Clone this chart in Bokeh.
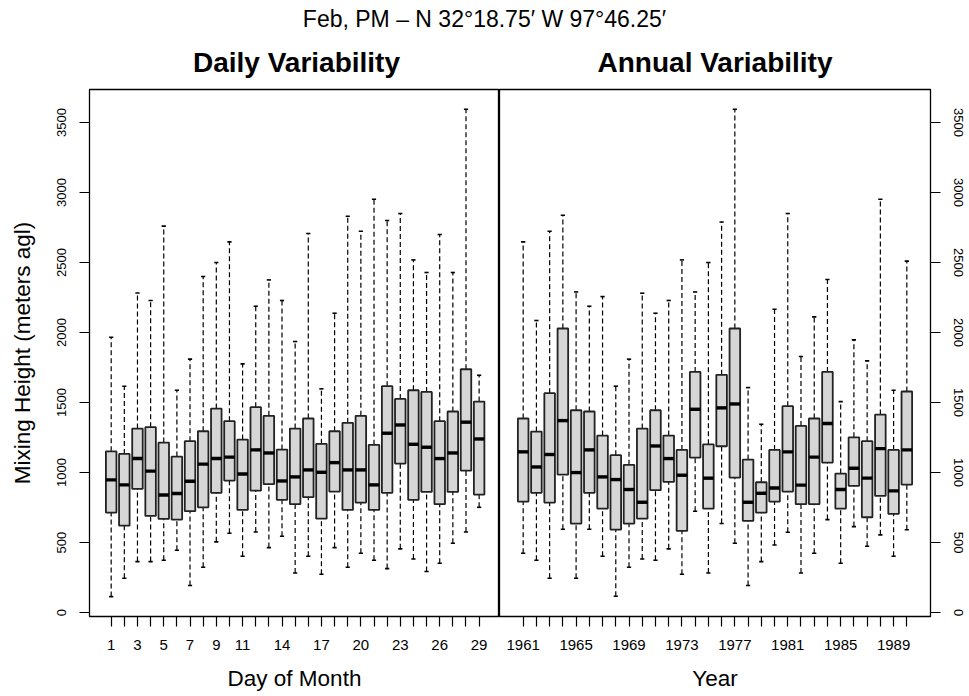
from bokeh.plotting import figure
from bokeh.models import ColumnDataSource, FixedTicker, Range1d
from bokeh.layouts import column, row
from bokeh.embed import file_html
from bokeh.resources import INLINE
from bokeh.core.properties import value

# ---------------- data ----------------
days = list(range(1, 30))
day_lower = [114, 245, 364, 364, 374, 445, 193, 324, 505, 567, 402, 576, 464, 545, 283,
             402, 274, 464, 324, 424, 374, 314, 455, 383, 293, 352, 495, 576, 752]
day_q1 = [714, 621, 883, 690, 669, 664, 724, 752, 855, 943, 733, 871, 917, 805, 774,
          824, 671, 864, 733, 786, 733, 855, 1064, 805, 862, 774, 862, 1014, 843]
day_med = [948, 912, 1100, 1010, 840, 850, 938, 1060, 1100, 1110, 990, 1162, 1140, 940, 969,
           1019, 1002, 1071, 1019, 1019, 912, 1281, 1340, 1202, 1181, 1100, 1140, 1360, 1240]
day_q3 = [1152, 1133, 1314, 1324, 1214, 1114, 1224, 1295, 1457, 1367, 1236, 1467, 1405, 1164, 1314,
          1386, 1205, 1295, 1355, 1405, 1198, 1617, 1526, 1588, 1576, 1367, 1436, 1738, 1507]
day_upper = [1966, 1617, 2283, 2229, 2760, 1588, 1810, 2400, 2500, 2648, 1776, 2188, 2376, 2229, 1936,
             2707, 1598, 2138, 2831, 2724, 2952, 2800, 2850, 2519, 2429, 2700, 2429, 3595, 1695]
day_tick_labels = ["1", "3", "5", "7", "9", "11", "14", "17", "20", "23", "26", "29"]

years = list(range(1961, 1991))
yr_lower = [424, 374, 245, 595, 245, 595, 402, 117, 324, 383, 374, 455, 274, 724, 283,
            636, 495, 193, 364, 483, 574, 283, 424, 664, 352, 614, 474, 555, 402, 592]
yr_q1 = [793, 855, 786, 986, 636, 855, 743, 593, 636, 671, 874, 933, 583, 1107, 743,
         1188, 964, 655, 714, 793, 864, 774, 774, 1071, 743, 905, 681, 833, 705, 914]
yr_med = [1148, 1040, 1129, 1371, 1000, 1162, 969, 950, 879, 788, 1190, 1100, 981, 1452, 960,
          1462, 1490, 788, 852, 890, 1148, 910, 1110, 1350, 879, 1031, 960, 1171, 869, 1162]
yr_q3 = [1386, 1293, 1567, 2029, 1445, 1436, 1264, 1124, 1055, 1314, 1445, 1264, 1162, 1719, 1202,
         1698, 2029, 1093, 931, 1162, 1474, 1333, 1386, 1719, 993, 1252, 1224, 1414, 1162, 1579]
yr_upper = [2648, 2086, 2724, 2838, 2290, 2188, 2257, 1617, 1810, 2281, 2138, 2229, 2519, 2290, 2500,
            2790, 3595, 1607, 1345, 2167, 2850, 1829, 2112, 2379, 1507, 1948, 1798, 2952, 1588, 2510]
year_tick_labels = ["1961", "1965", "1969", "1973", "1977", "1981", "1985", "1989"]

y_ticks = [0, 500, 1000, 1500, 2000, 2500, 3000, 3500]

main_title = "Feb, PM \u2013 N 32\u00b018.75\u2032 W 97\u00b046.25\u2032"
left_title = "Daily Variability"
right_title = "Annual Variability"

FONT = "Liberation Sans"
BOX_W = 0.8
CAP_W = 0.32
BOX_FILL = "#d6d6d6"


def draw_boxes(p, xs, lo, q1, med, q3, up):
    src = ColumnDataSource(dict(
        x=xs, lo=lo, q1=q1, med=med, q3=q3, up=up,
        bx0=[x - BOX_W / 2 for x in xs], bx1=[x + BOX_W / 2 for x in xs],
        cx0=[x - CAP_W / 2 for x in xs], cx1=[x + CAP_W / 2 for x in xs],
    ))
    p.segment(x0="x", y0="q3", x1="x", y1="up", source=src, line_color="black",
              line_width=1.2, line_dash="5 3")
    p.segment(x0="x", y0="lo", x1="x", y1="q1", source=src, line_color="black",
              line_width=1.2, line_dash="5 3")
    p.segment(x0="cx0", y0="up", x1="cx1", y1="up", source=src, line_color="black", line_width=1.6)
    p.segment(x0="cx0", y0="lo", x1="cx1", y1="lo", source=src, line_color="black", line_width=1.6)
    p.vbar(x="x", width=BOX_W, bottom="q1", top="q3", source=src, fill_color=BOX_FILL,
           line_color="#222222", line_width=1.8)
    p.segment(x0="bx0", y0="med", x1="bx1", y1="med", source=src, line_color="black",
              line_width=3.4)


def style_common(p):
    p.outline_line_color = "black"
    p.outline_line_width = 1.3
    p.xgrid.visible = False
    p.ygrid.visible = False
    p.background_fill_color = "white"
    p.border_fill_color = "white"


def style_axis(ax, font_size):
    ax.axis_line_color = None
    ax.major_tick_line_color = "black"
    ax.major_tick_line_width = 1.2
    ax.major_tick_in = 0
    ax.major_tick_out = 10
    ax.minor_tick_line_color = None
    ax.major_label_text_font = FONT
    ax.major_label_text_font_size = font_size
    ax.major_label_text_color = "black"
    ax.axis_label_text_font = FONT
    ax.axis_label_text_font_style = "normal"
    ax.axis_label_text_font_size = "22.5px"
    ax.axis_label_text_color = "black"


Y_RANGE = (-28, 3736)

# --------------- title strip ---------------
TOP_W = 965
TOP_H = 83
pt = figure(width=TOP_W, height=TOP_H, output_backend="svg", toolbar_location=None,
            x_range=Range1d(0, TOP_W), y_range=Range1d(0, TOP_H),
            min_border=0, min_border_left=0, min_border_right=0, min_border_top=0, min_border_bottom=0)
pt.axis.visible = False
pt.grid.visible = False
pt.outline_line_color = None
pt.text(x=[484], y=[TOP_H - 18], text=[main_title], text_font=value(FONT),
        text_font_size="23px", text_align="center", text_baseline="middle", text_color="black")
pt.text(x=[296, 714.5], y=[TOP_H - 62, TOP_H - 62], text=[left_title, right_title],
        text_font=value(FONT), text_font_size="28px", text_font_style="bold",
        text_align="center", text_baseline="middle", text_color="black")

# --------------- left panel ---------------
PH = 613
pl = figure(width=499, height=PH, output_backend="svg", toolbar_location=None,
            x_range=Range1d(-0.65, 30.55), y_range=Range1d(*Y_RANGE),
            min_border_left=89, min_border_right=0, min_border_top=6, min_border_bottom=80)
style_common(pl)
draw_boxes(pl, days, day_lower, day_q1, day_med, day_q3, day_upper)
pl.xaxis.ticker = FixedTicker(ticks=days)
pl.xaxis.major_label_overrides = {d: (str(d) if str(d) in day_tick_labels else "") for d in days}
pl.xaxis.axis_label = "Day of Month"
pl.xaxis.major_label_standoff = 13
pl.xaxis.axis_label_standoff = 13
pl.yaxis.ticker = FixedTicker(ticks=y_ticks)
pl.yaxis.major_label_orientation = "vertical"
pl.yaxis.axis_label = "Mixing Height (meters agl)"
pl.yaxis.major_label_standoff = 13
pl.yaxis.axis_label_standoff = 20
for ax in pl.xaxis:
    style_axis(ax, "15px")
for ax in pl.yaxis:
    style_axis(ax, "13px")

# --------------- right panel ---------------
pr = figure(width=466, height=PH, output_backend="svg", toolbar_location=None,
            x_range=Range1d(1959.21, 1991.79), y_range=Range1d(*Y_RANGE),
            y_axis_location="right",
            min_border_left=0, min_border_right=35, min_border_top=6, min_border_bottom=80)
style_common(pr)
draw_boxes(pr, years, yr_lower, yr_q1, yr_med, yr_q3, yr_upper)
pr.xaxis.ticker = FixedTicker(ticks=years)
pr.xaxis.major_label_overrides = {y: (str(y) if str(y) in year_tick_labels else "") for y in years}
pr.xaxis.axis_label = "Year"
pr.xaxis.major_label_standoff = 13
pr.xaxis.axis_label_standoff = 13
pr.yaxis.ticker = FixedTicker(ticks=y_ticks)
pr.yaxis.major_label_orientation = "vertical"
pr.yaxis.major_label_standoff = 13
for ax in pr.xaxis:
    style_axis(ax, "15px")
for ax in pr.yaxis:
    style_axis(ax, "13px")

layout = column(pt, row(pl, pr, spacing=0), spacing=0)

with open("out.html", "w") as f:
    f.write(file_html(layout, INLINE))
